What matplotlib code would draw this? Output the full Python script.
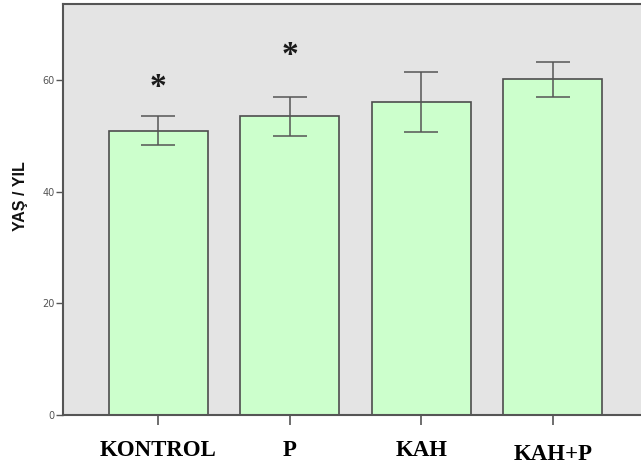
import matplotlib
matplotlib.use('Agg')
import matplotlib.pyplot as plt
import matplotlib.transforms as mtransforms
import numpy as np

# group means and error bar half-widths
groups = ['KONTROL', 'P', 'KAH', 'KAH+P']
means = [50.9, 53.5, 56.1, 60.1]
errs = [2.6, 3.5, 5.4, 3.1]
# significance markers: group index -> height of the asterisk
stars = {0: 59.5, 1: 65.3}

W, H = 641, 466
fig = plt.figure(figsize=(W / 100, H / 100), dpi=100)
# plot area runs past the right edge of the image, as in the original
ax = fig.add_axes([63 / W, (H - 415) / H, (648 - 63) / W, (415 - 4) / H])
ax.set_facecolor('#e4e4e4')

x = np.arange(len(groups))
ax.bar(x, means, width=0.755, color='#ccffcc', edgecolor='#4d4d4d', linewidth=1.2, zorder=2)
ax.errorbar(x, means, yerr=errs, fmt='none', ecolor='#555555', elinewidth=1.1,
            capsize=12, capthick=1.1, zorder=3)

# the asterisk glyph sits high in its box, shift it down a bit
star_tr = mtransforms.offset_copy(ax.transData, fig=fig, x=0, y=-5, units='dots')
for i, yy in stars.items():
    ax.text(x[i], yy, '*', ha='center', va='center', fontsize=24, fontweight='bold',
            family='Liberation Serif', color='#1a1a1a', zorder=4, transform=star_tr)

ax.set_xlim(-0.724, 3.724)
ax.set_ylim(0, 73.6)
ax.set_yticks([0, 20, 40, 60])
ax.tick_params(axis='y', length=5, width=1, color='#555555', labelsize=7,
               labelcolor='#555555', pad=1)
ax.set_xticks(x)
ax.set_xticklabels(groups, family='Liberation Serif', fontweight='bold', fontsize=16.5)
ax.tick_params(axis='x', length=7, width=1.2, color='#555555', pad=11)
for lbl in ax.get_xticklabels():
    if lbl.get_text() == 'KAH+P':
        lbl.set_y(-0.009)

for s in ax.spines.values():
    s.set_color('#555555')
    s.set_linewidth(1.5)

fig.text(20 / W, 1 - 196 / H, 'YAŞ / YIL', rotation=90, ha='center', va='center',
         family='Liberation Sans', fontweight='bold', fontsize=11.5, color='#111111')

fig.savefig('out.png', dpi=100)
